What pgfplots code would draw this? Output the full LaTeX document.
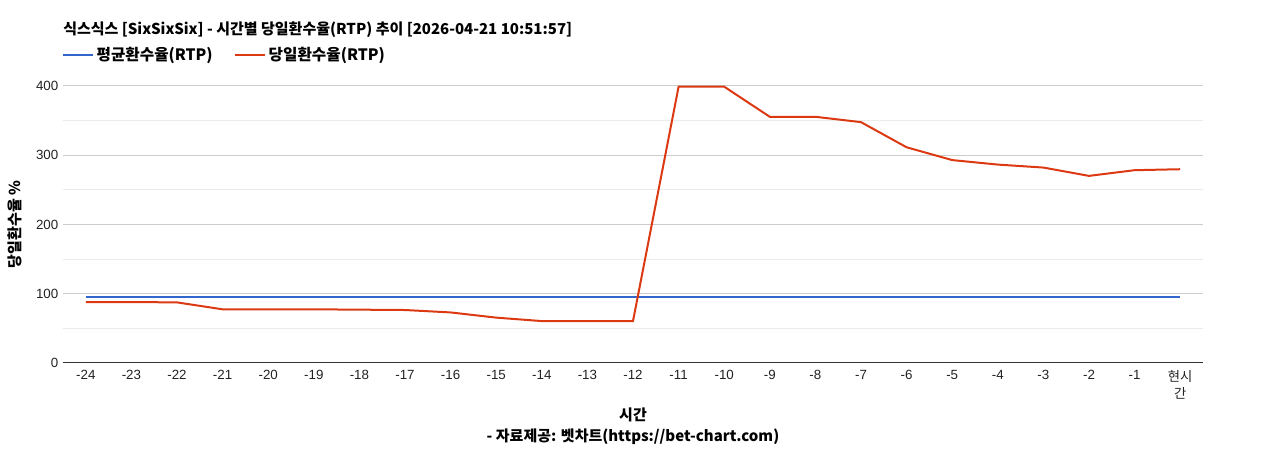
\documentclass[border=0pt]{standalone}
\usepackage{pgfplots}
\pgfplotsset{compat=1.18}
\usepackage{fontspec}
\setmainfont{Liberation Sans}
\newfontfamily\kr{Noto Sans CJK KR}
\definecolor{avgblue}{HTML}{3366CC}
\definecolor{dayred}{HTML}{DC3912}
\definecolor{majgrid}{HTML}{CCCCCC}
\definecolor{mingrid}{HTML}{EBEBEB}
\definecolor{axisdark}{HTML}{333333}
\definecolor{ticktext}{HTML}{222222}
\begin{document}
\begin{tikzpicture}
\begin{axis}[
    name=ax,
    scale only axis,
    width=855pt, height=207.75pt,
    xmin=-0.5, xmax=24.5,
    ymin=0, ymax=400,
    clip=false,
    axis lines*=left,
    x axis line style={axisdark, line width=0.75pt},
    y axis line style={draw=none},
    xtick={0,...,24},
    xticklabels={-24,-23,-22,-21,-20,-19,-18,-17,-16,-15,-14,-13,-12,-11,-10,-9,-8,-7,-6,-5,-4,-3,-2,-1,{\kr 현시\\\kr 간}},
    ytick={0,100,200,300,400},
    minor ytick={50,150,250,350},
    ymajorgrids, yminorgrids,
    major grid style={majgrid, line width=0.75pt},
    minor grid style={mingrid, line width=0.75pt},
    major tick length=0pt, minor tick length=0pt,
    tick label style={font=\fontsize{10}{12.5}\selectfont, ticktext},
    x tick label style={align=center, yshift=-2pt},
    /pgf/number format/assume math mode=true,
    xlabel={\kr\bfseries 시간},
    xlabel style={at={(axis description cs:0.5,0)}, anchor=center, yshift=-39pt, font=\fontsize{11.25}{13}\selectfont},
    legend columns=2,
    legend style={at={(0,1)}, anchor=west, xshift=-4pt, yshift=23.25pt, draw=none, fill=none,
        font=\fontsize{11.75}{13.5}\selectfont\kr\bfseries,
        /tikz/every even column/.append style={column sep=14pt}},
    legend image code/.code={\draw[#1] (0pt,0pt) -- (22.5pt,0pt);},
]
\addplot[avgblue, line width=1.5pt] coordinates {
(0,96) (1,96) (2,96) (3,96) (4,96) (5,96) (6,96) (7,96) (8,96) (9,96)
(10,96) (11,96) (12,96) (13,96) (14,96) (15,96) (16,96) (17,96) (18,96)
(19,96) (20,96) (21,96) (22,96) (23,96) (24,96)
};
\addlegendentry{평균환수율(RTP)}
\addplot[dayred, line width=1.5pt] coordinates {
(0,88) (1,88) (2,87.5) (3,77.5) (4,77.5) (5,77.5) (6,77) (7,76.5)
(8,73) (9,65.5) (10,60.5) (11,60.5) (12,60.5) (13,399) (14,399)
(15,355.5) (16,355.5) (17,347.8) (18,311.5) (19,293) (20,286.5)
(21,282.2) (22,270.2) (23,278.4) (24,279.8)
};
\addlegendentry{당일환수율(RTP)}
\end{axis}
\node[anchor=west, font=\fontsize{11.25}{13}\selectfont\kr\bfseries, inner sep=0pt]
    at ([yshift=42pt]ax.north west) {식스식스 [SixSixSix] - 시간별 당일환수율(RTP) 추이 [2026-04-21 10:51:57]};
\node[anchor=center, rotate=90, font=\fontsize{11.25}{13}\selectfont\kr\bfseries, inner sep=0pt]
    at ([xshift=-36pt]ax.west) {당일환수율 \%};
\node[anchor=center, font=\fontsize{11.25}{13}\selectfont\kr\bfseries, inner sep=0pt]
    at ([yshift=-55.5pt]ax.south) {- 자료제공: 벳차트(https://bet-chart.com)};
\pgfresetboundingbox
\path ([xshift=-47.25pt,yshift=-65.25pt]ax.south west) rectangle ([xshift=48.75pt,yshift=64.5pt]ax.north east);
\end{tikzpicture}
\end{document}
